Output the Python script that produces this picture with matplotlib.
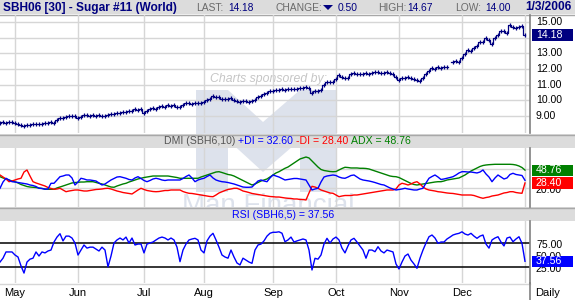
import numpy as np
import matplotlib
matplotlib.use("Agg")
import matplotlib.pyplot as plt
from matplotlib.patches import Rectangle, Polygon

# ---------------- data ----------------
close = [
    8.55, 8.6, 8.58, 8.6, 8.6, 8.58, 8.5, 8.45, 8.35, 8.45,
    8.45, 8.5, 8.48, 8.52, 8.5, 8.53, 8.55, 8.6, 8.58, 8.75,
    8.85, 8.9, 8.95, 9.0, 8.98, 9.0, 8.9, 8.92, 9.05, 9.05,
    9.0, 9.05, 9.03, 9.05, 9.0, 9.02, 9.05, 9.1, 9.15, 9.2,
    9.2, 9.28, 9.25, 9.3, 9.35, 9.43, 9.4, 9.45, 9.2, 9.35,
    9.45, 9.5, 9.45, 9.6, 9.65, 9.6, 9.68, 9.65, 9.7, 9.6,
    9.55, 9.7, 9.8, 9.82, 9.78, 9.82, 9.85, 9.8, 9.9, 10.0,
    10.1, 10.25, 10.2, 10.22, 10.1, 10.08, 10.1, 10.15, 10.05, 9.95,
    9.92, 9.98, 9.95, 9.92, 9.95, 10.05, 10.2, 10.25, 10.4, 10.5,
    10.62, 10.6, 10.68, 10.66, 10.7, 10.68, 10.72, 10.7, 10.75, 10.72,
    10.78, 10.8, 10.82, 10.8, 10.5, 10.6, 10.62, 10.65, 11.0, 11.15,
    11.15, 11.2, 11.35, 11.6, 11.5, 11.45, 11.4, 11.65, 11.75, 11.7,
    11.68, 11.65, 11.72, 11.7, 11.75, 11.78, 11.8, 11.72, 11.75, 11.8,
    11.72, 11.65, 11.5, 11.3, 11.4, 11.45, 11.5, 11.4, 11.35, 11.3,
    11.25, 11.45, 11.7, 11.9, 12.05, 12.0, 12.1, 12.05, 12.1, 12.15,
    np.nan, 12.45, 12.5, 12.45, 12.7, 12.95, 13.2, 13.15, 13.35, 13.45,
    13.7, 13.75, 13.95, 13.85, 13.6, 13.95, 14.2, 14.4, 14.45, 14.3,
    14.8, 14.65, 14.6, 14.7, 14.75, 14.18,
]
adx = [
    38.3, 36.3, 34.7, 33.1, 31.5, 30.4, 28.4, 26, 24.4, 22.8,
    22, 21.6, 21.2, 20.5, 19.7, 18.9, 18.4, 18.4, 18.4, 20.5,
    22, 23.6, 25.2, 26.8, 28.4, 29.1, 29.5, 29.9, 29.9, 30.4,
    30.4, 30.4, 29.1, 27.9, 26.8, 25.2, 23.6, 22, 21.6, 23.6,
    25.2, 26.8, 27.9, 29.9, 31.5, 33.1, 34.7, 35.8, 37, 37.8,
    38.6, 39.4, 39.4, 39.4, 39.4, 39.4, 39.4, 38.6, 37.8, 37,
    35.8, 35.8, 35.8, 35.8, 35.8, 35.8, 35.8, 37.8, 39.4, 41,
    42.6, 44.2, 45.7, 46.2, 44.9, 43.4, 41.8, 41, 39.4, 37,
    34.7, 32.3, 29.9, 27.6, 25.2, 26.8, 29.1, 31.5, 33.1, 34.7,
    37.8, 41, 44.2, 46.2, 48.9, 51.6, 53.6, 56.8, 60, 63.1,
    66.3, 67.9, 69.4, 67.9, 63.1, 58.4, 53.6, 49.7, 48.1, 47.3,
    46.5, 46.2, 46.5, 48.9, 51.3, 53.2, 52.8, 52.1, 52.1, 52.1,
    51.6, 51.6, 51.3, 50.5, 48.9, 47.3, 45.7, 44.2, 42.6, 41,
    39.4, 38.6, 38.3, 37, 34.7, 32.3, 29.9, 27.6, 26, 25.2,
    26, 26.8, 27.6, 28.4, 29.1, 29.9, 30.4, 30.4, 31.5, 33.1,
    33.9, 34.7, 35.5, 36.3, 38.6, 41, 44.2, 47.3, 49.7, 52.1,
    54.4, 56, 56.8, 57.3, 57.6, 57.9, 57.9, 57.9, 57.9, 57.9,
    57.9, 57.6, 56.8, 55.2, 52.8, 48.76,
]
plus_di = [
    20, 29.9, 35.8, 33.1, 30.4, 29.9, 29.1, 28.4, 27.6, 26.8,
    25.2, 24.4, 22.8, 20, 19.7, 18.4, 18.9, 27.9, 27.9, 33.1,
    38.3, 39.4, 41, 41, 36.3, 25.2, 29.9, 35.8, 34.7, 33.1,
    33.1, 32.3, 31.5, 28.4, 25.2, 26.8, 29.9, 33.1, 35.5, 37.8,
    38.3, 37, 35.8, 33.9, 33.1, 36.3, 38.3, 35.5, 32.3, 30.4,
    32.3, 34.7, 35.8, 34.7, 33.1, 32.3, 33.1, 33.1, 33.1, 33.1,
    33.1, 35.5, 38.6, 41, 36.3, 30.4, 33.1, 34.7, 35.8, 38.6,
    41, 36.3, 33.1, 31.5, 30.4, 29.9, 29.1, 27.9, 26.8, 25.2,
    23.6, 22, 21.6, 21.6, 22, 26.8, 31.5, 33.1, 31.5, 30.4,
    36.3, 41, 39.4, 37.8, 35.5, 33.1, 33.9, 34.7, 35.5, 35.5,
    34.7, 33.9, 33.1, 25.2, 17.3, 18.9, 20, 29.9, 37.8, 39.4,
    40.2, 41, 40.2, 37.8, 36.3, 35.8, 37.8, 40.2, 41, 37.8,
    34.7, 33.1, 32.3, 31.5, 30.4, 29.1, 27.6, 26, 25.2, 22.8,
    20.5, 18.9, 17.3, 18.1, 18.9, 20, 18.9, 18.1, 17.3, 17.3,
    18.9, 20, 28.4, 35.8, 38.6, 41, 37.8, 33.9, 34.7, 35.8,
    37, 38.3, 41, 44.2, 46.2, 46.2, 45.7, 45.7, 44.9, 44.2,
    45.7, 48.9, 42.6, 37.8, 30.4, 36.3, 41, 37.8, 34.7, 36.3,
    41.8, 43.7, 41.8, 41, 40.2, 32.6,
]
minus_di = [
    41, 37.8, 34.7, 30.4, 31.5, 33.1, 34.7, 35.8, 45.7, 48.9,
    39.4, 30.4, 28.4, 26.8, 25.2, 23.6, 21.2, 19.7, 18.4, 18.9,
    20, 17.3, 14.6, 15.7, 16.5, 17.3, 17.3, 16.5, 15.7, 15.7,
    16.5, 17.3, 18.1, 18.4, 18.9, 19.7, 20, 18.9, 17.3, 15.7,
    14.6, 13.3, 12.6, 11.8, 11, 14.1, 17.3, 20, 18.1, 16.5,
    15.7, 14.9, 14.6, 14.9, 15.7, 16.5, 16.5, 17.3, 17.3, 17.3,
    17.3, 14.9, 13.3, 12.1, 11.8, 11, 10.2, 9.4, 8.6, 7.8,
    7, 6.7, 9.4, 12.6, 14.6, 16.5, 18.1, 18.9, 20, 20,
    18.1, 15.7, 14.6, 13.3, 11.8, 11, 10.2, 9.4, 8.6, 7.8,
    7, 6.7, 6.2, 6.2, 5.4, 4.7, 4.2, 3.9, 3.1, 3.1,
    2.3, 2.3, 1.5, 12.6, 23.1, 22, 20, 17.3, 15.7, 14.1,
    12.6, 12.1, 9.4, 6.7, 7.8, 8.6, 8.6, 8.6, 9.4, 9.4,
    10.2, 11, 11.8, 12.6, 13.3, 14.1, 14.9, 15.7, 16.5, 17.3,
    17.3, 17.3, 18.9, 25.2, 27.9, 26.8, 25.2, 26.8, 29.1, 30.4,
    26.8, 22, 18.9, 17.3, 16.5, 15.7, 14.6, 14.1, 13.3, 12.6,
    12.1, 11.8, 11, 10.2, 9.4, 9.4, 9.4, 9.4, 8.6, 7,
    5.4, 4.2, 5.4, 6.2, 7.8, 8.6, 9.4, 11, 12.6, 13.3,
    14.6, 14.6, 13.3, 12.6, 12.1, 28.4,
]
rsi = [
    36, 44, 57, 57, 57, 50.6, 46.5, 28, 13, 36,
    42, 44, 57, 48.5, 57, 55, 59, 61, 77.7, 88,
    95, 80, 90, 90, 86, 75.6, 50.6, 61, 71.5, 65,
    67, 67, 63, 59, 67, 61, 26, 48.5, 75.6, 82,
    86, 82, 88, 75.6, 86, 71.5, 73.5, 73.5, 55, 73.5,
    75.6, 77.7, 82, 86, 88, 86, 82, 86, 82, 67,
    36.7, 61, 73.5, 82, 84, 85.4, 82, 61, 55, 80,
    90, 95.8, 82, 67, 50.6, 46.5, 44, 61, 46.5, 34,
    30, 44, 40, 36, 33.3, 61, 71.5, 73.5, 80, 90,
    96, 98, 98, 99, 96, 78.3, 82, 88, 77.7, 80,
    82, 84, 82, 61, 19.4, 43.8, 42, 50.6, 73.5, 85.4,
    75.6, 84, 88, 82, 65, 55, 69.5, 82, 85.4, 77.7,
    69.5, 61, 44, 61, 61, 57.5, 67.9, 59, 55, 61,
    59, 57, 32, 21.5, 36, 48.5, 52.7, 40, 32, 23,
    44, 61, 75.6, 88.7, 92.3, 86, 75, 77.7, 77.7, 84,
    88, 92.3, 94.4, 95.8, 99, 94.4, 92.3, 95.8, 90, 85.4,
    90, 92.3, 73.5, 65, 82, 86, 88.7, 77.7, 69.5, 86,
    88, 78.3, 84, 88.7, 75, 37.56,
]
month_pos = [0, 21, 43, 63, 86, 107, 128, 149, 170]
month_labels = ["May", "Jun", "Jul", "Aug", "Sep", "Oct", "Nov", "Dec", ""]
price_ticks = [9, 10, 11, 12, 13, 14, 15]
price_labels = [9, 10, 11, 12, 13, 15]
dmi_ticks = [20, 50]
rsi_levels = [25, 75]
rsi_labels = [75, 50, 25]

title = "SBH06 [30] - Sugar #11 (World)"
last, change, high, low, date = "14.18", "0.50", "14.67", "14.00", "1/3/2006"

# ---------------- layout ----------------
W, H = 575, 300
plt.rcParams["font.family"] = ["Liberation Sans", "DejaVu Sans"]
navy = "#000080"
grid_c = "#D6D6D6"
band_c = "#DCDCDC"
band_edge = "#A8A8A8"
axis_c = "#808080"
wm_c = "#DDE2EC"
gray_t = "#6A6A6A"
FS = 7.6

fig = plt.figure(figsize=(W / 100, H / 100), dpi=100)
fig.patch.set_facecolor("white")
renderer = fig.canvas.get_renderer()

bg = fig.add_axes([0, 0, 1, 1], zorder=0)
bg.set_xlim(0, W)
bg.set_ylim(H, 0)
bg.axis("off")

n = len(close)
xs = np.arange(n) - 5
XL = (-5, 171.67)


def panel(top, bottom, ylim, yticks):
    ax = fig.add_axes([0, 1 - bottom / H, 530 / W, (bottom - top) / H], zorder=2)
    ax.set_facecolor("none")
    ax.set_xlim(*XL)
    ax.set_ylim(*ylim)
    for s in ("top", "left", "bottom"):
        ax.spines[s].set_visible(False)
    ax.spines["right"].set_color(axis_c)
    ax.spines["right"].set_linewidth(1.2)
    ax.set_xticks(month_pos)
    ax.set_yticks(yticks)
    ax.tick_params(length=0, labelbottom=False, labelleft=False)
    ax.grid(True, color=grid_c, lw=1)
    ax.set_axisbelow(True)
    return ax


def ypx(ax, v):
    return H - ax.transData.transform((0, v))[1]


def chain(x, y, pieces, fs=FS, ha="left", z=7):
    """draw consecutive coloured text pieces starting at x (or centred on x)."""
    arts = []
    for txt, col in pieces:
        t = bg.text(0, y, txt, color=col, fontsize=fs, va="center", ha="left", zorder=z)
        arts.append(t)
    widths = [a.get_window_extent(renderer).width for a in arts]
    total = sum(widths)
    cx = x - total / 2 if ha == "center" else x
    for a, w in zip(arts, widths):
        a.set_x(cx)
        cx += w


# header band
bg.add_patch(Rectangle((0, 0), W, 14, fc=band_c, ec="none", zorder=5))
bg.plot([0, W], [14.5, 14.5], color=band_edge, lw=1, zorder=6)
bg.text(3, 7.5, title, color=navy, fontsize=8.6, fontweight="bold", va="center", ha="left", zorder=7)
hdr = dict(fontsize=7.4, va="center", ha="left", zorder=7)
bg.text(196, 8, "LAST:", color=gray_t, **hdr)
bg.text(228, 8, last, color=navy, **hdr)
bg.text(275, 8, "CHANGE:", color=gray_t, **hdr)
bg.add_patch(Polygon([[323, 5], [333, 5], [328, 10]], closed=True, fc=navy, ec="none", zorder=7))
bg.text(338, 8, change, color=navy, **hdr)
bg.text(378, 8, "HIGH:", color=gray_t, **hdr)
bg.text(407, 8, high, color=navy, **hdr)
bg.text(455, 8, "LOW:", color=gray_t, **hdr)
bg.text(485, 8, low, color=navy, **hdr)
bg.text(571, 7.5, date, color=navy, fontsize=8.6, fontweight="bold", va="center", ha="right", zorder=7)

# watermark
bg.text(268, 79, "Charts sponsored by:", color="#C6C6C6", fontsize=8.8, style="italic",
        ha="center", va="center", zorder=1)
bg.add_patch(Polygon([[196, 90], [228, 90], [263, 122], [300, 90], [337, 90], [337, 192],
                      [300, 192], [300, 140], [263, 172], [228, 140], [228, 192], [196, 192]],
                     closed=True, fc=wm_c, ec="none", zorder=1))
wm_clip = Rectangle((0, 150), W, 57, transform=bg.transData, fc="none", ec="none")
bg.add_patch(wm_clip)
wm_txt = bg.text(268, 206, "Man Financial", color=wm_c, fontsize=20, ha="center", va="center", zorder=1)
wm_txt.set_clip_path(wm_clip)

# separator bands
for (t, b) in ((134, 148), (207, 221)):
    bg.add_patch(Rectangle((0, t), W, b - t, fc=band_c, ec="none", zorder=5))
    bg.plot([0, W], [t + 0.5, t + 0.5], color=band_edge, lw=1, zorder=6)
bg.plot([0, 530], [283.5, 283.5], color=grid_c, lw=1, zorder=1)
bg.plot([530, 530], [283, 300], color=axis_c, lw=1.2, zorder=6)

# ---------------- price panel ----------------
ax1 = panel(15, 133, (7.915, 15.447), price_ticks)
c = np.array(close, dtype=float)
ax1.plot(xs, c, drawstyle="steps-mid", color=navy, lw=0.9, zorder=3)
ax1.plot(xs, c, "|", color=navy, ms=3.5, mew=0.9, zorder=3)
for v in price_labels:
    bg.text(536, ypx(ax1, v), f"{v:.2f}", fontsize=FS, color="black", va="center", ha="left", zorder=7)
yl = ypx(ax1, float(last))
bg.add_patch(Rectangle((532, yl - 6), 41, 12, fc=navy, ec="none", zorder=8))
bg.text(536, yl, last, fontsize=FS, color="white", va="center", ha="left", zorder=9)

# ---------------- DMI panel ----------------
ax2 = panel(148, 207, (-9.57, 83.65), dmi_ticks)
ax2.plot(xs, adx, color="#008000", lw=1, zorder=3)
ax2.plot(xs, minus_di, color="#FF0000", lw=1, zorder=3)
ax2.plot(xs, plus_di, color="#0000FF", lw=1, zorder=3)
bg.text(536, ypx(ax2, 20) + 2, "20.00", fontsize=FS, color="black", va="center", ha="left", zorder=7)
for val, col in ((adx[-1], "#008000"), (minus_di[-1], "#FF0000")):
    yy = ypx(ax2, val)
    bg.add_patch(Rectangle((532, yy - 5.5), 41, 11.5, fc=col, ec="none", zorder=8))
    bg.text(536, yy, f"{val:.2f}", fontsize=FS, color="white", va="center", ha="left", zorder=9)
chain(287, 141.5, [("DMI (SBH6,10) ", "#555555"),
                   (f"+DI = {plus_di[-1]:.2f} ", "#0000FF"),
                   (f"-DI = {minus_di[-1]:.2f} ", "#FF0000"),
                   (f"ADX = {adx[-1]:.2f}", "#008000")], ha="center")

# ---------------- RSI panel ----------------
ax3 = panel(221, 283, (-7.7, 121.5), [])
ax3.grid(True, axis="x", color=grid_c, lw=1)
for lv in rsi_levels:
    ax3.axhline(lv, color="black", lw=1.1, zorder=2)
ax3.plot(xs, rsi, color="#0000FF", lw=1, zorder=3)
for v in rsi_labels:
    bg.text(536, ypx(ax3, v) + 1.5, f"{v:.2f}", fontsize=FS, color="black", va="center", ha="left", zorder=7)
yy = ypx(ax3, rsi[-1])
bg.add_patch(Rectangle((532, yy - 5), 41, 11, fc="#0000FF", ec="none", zorder=8))
bg.text(536, yy, f"{rsi[-1]:.2f}", fontsize=FS, color="white", va="center", ha="left", zorder=9)
chain(283, 214.5, [(f"RSI (SBH6,5) = {rsi[-1]:.2f}", "#0000FF")], ha="center")

# ---------------- x labels ----------------
for p, lab in zip(month_pos, month_labels):
    if lab:
        xp = 15 + 3 * p
        bg.text(xp, 292.5, lab, fontsize=FS + 0.4, color="black", ha="center", va="center", zorder=7)
bg.text(548, 292.5, "Daily", fontsize=FS + 0.4, color="black", ha="center", va="center", zorder=7)

fig.savefig("out.png", dpi=100)
